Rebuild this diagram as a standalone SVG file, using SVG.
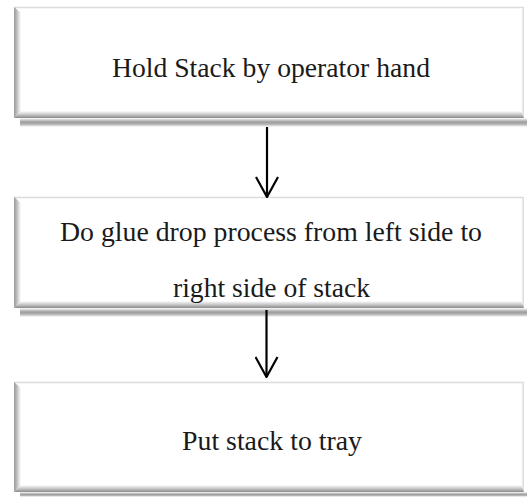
<svg xmlns="http://www.w3.org/2000/svg" width="527" height="497" viewBox="0 0 527 497">
  <defs>
    <!-- bevel shading for the process boxes -->
    <linearGradient id="bevelLeft" x1="0" y1="0" x2="1" y2="0">
      <stop offset="0" stop-color="#9a9a9a"/>
      <stop offset="0.35" stop-color="#b8b8b8"/>
      <stop offset="1" stop-color="#ffffff"/>
    </linearGradient>
    <linearGradient id="bevelRight" x1="0" y1="0" x2="1" y2="0">
      <stop offset="0" stop-color="#ffffff"/>
      <stop offset="1" stop-color="#d8d8d8"/>
    </linearGradient>
    <linearGradient id="bevelBottom" x1="0" y1="0" x2="0" y2="1">
      <stop offset="0" stop-color="#ffffff"/>
      <stop offset="0.6" stop-color="#bdbdbd"/>
      <stop offset="1" stop-color="#8a8a8a"/>
    </linearGradient>
    <linearGradient id="dropShadow" x1="0" y1="0" x2="0" y2="1">
      <stop offset="0" stop-color="#ffffff"/>
      <stop offset="0.45" stop-color="#9c9c9c"/>
      <stop offset="0.7" stop-color="#b4b4b4"/>
      <stop offset="1" stop-color="#ffffff"/>
    </linearGradient>
    <!-- open V arrowhead, drawn along +x so it follows the line direction -->
    <marker id="openArrow" viewBox="0 0 22 24" refX="21" refY="12" markerWidth="22" markerHeight="24" markerUnits="userSpaceOnUse" orient="auto">
      <path d="M1,1 L21,12 L1,23" fill="none" stroke="#000" stroke-width="2.2"/>
    </marker>
  </defs>
  <style>
    .face { fill: #ffffff; }
    .top { stroke: #dcdcdc; stroke-width: 1.5; }
    .left { fill: url(#bevelLeft); }
    .right { fill: url(#bevelRight); }
    .bottom { fill: url(#bevelBottom); }
    .shadow { fill: url(#dropShadow); }
    .label { font-family: "Liberation Serif", "Times New Roman", serif; font-size: 27px; fill: #1a1a1a; text-anchor: middle; }
    .conn { stroke: #000; stroke-width: 2.2; fill: none; marker-end: url(#openArrow); }
  </style>

  <rect width="527" height="497" fill="#ffffff"/>

  <!-- step 1 -->
  <g id="hold-stack">
    <rect class="shadow" x="20" y="118" width="507" height="9"/>
    <rect class="face" x="14" y="7" width="510" height="111"/>
    <line class="top" x1="14" y1="7.5" x2="524" y2="7.5"/>
    <polygon class="left" points="14,7 21,13 21,111 14,118"/>
    <polygon class="right" points="524,7 521,10 521,114 524,118"/>
    <polygon class="bottom" points="14,118 21,111 521,111 524,118"/>
    <text class="label" x="271" y="77" textLength="318" lengthAdjust="spacingAndGlyphs">Hold Stack by operator hand</text>
  </g>

  <!-- step 2 -->
  <g id="glue-drop">
    <rect class="shadow" x="20" y="308" width="507" height="9"/>
    <rect class="face" x="14" y="197" width="510" height="111"/>
    <line class="top" x1="14" y1="197.5" x2="524" y2="197.5"/>
    <polygon class="left" points="14,197 21,203 21,301 14,308"/>
    <polygon class="right" points="524,197 521,200 521,304 524,308"/>
    <polygon class="bottom" points="14,308 21,301 521,301 524,308"/>
    <text class="label" x="271" y="241" textLength="422" lengthAdjust="spacingAndGlyphs">Do glue drop process from left side to</text>
    <text class="label" x="271.5" y="297" textLength="197" lengthAdjust="spacingAndGlyphs">right side of stack</text>
  </g>

  <!-- step 3 -->
  <g id="put-to-tray">
    <rect class="shadow" x="20" y="492" width="507" height="5"/>
    <rect class="face" x="14" y="382" width="510" height="110"/>
    <line class="top" x1="14" y1="382.5" x2="524" y2="382.5"/>
    <polygon class="left" points="14,382 21,388 21,485 14,492"/>
    <polygon class="right" points="524,382 521,385 521,488 524,492"/>
    <polygon class="bottom" points="14,492 21,485 521,485 524,492"/>
    <text class="label" x="272" y="450" textLength="180" lengthAdjust="spacingAndGlyphs">Put stack to tray</text>
  </g>

  <!-- connectors -->
  <g id="connectors">
    <line class="conn" x1="267" y1="127" x2="267" y2="197"/>
    <line class="conn" x1="266.5" y1="310" x2="266.5" y2="377"/>
  </g>
</svg>
